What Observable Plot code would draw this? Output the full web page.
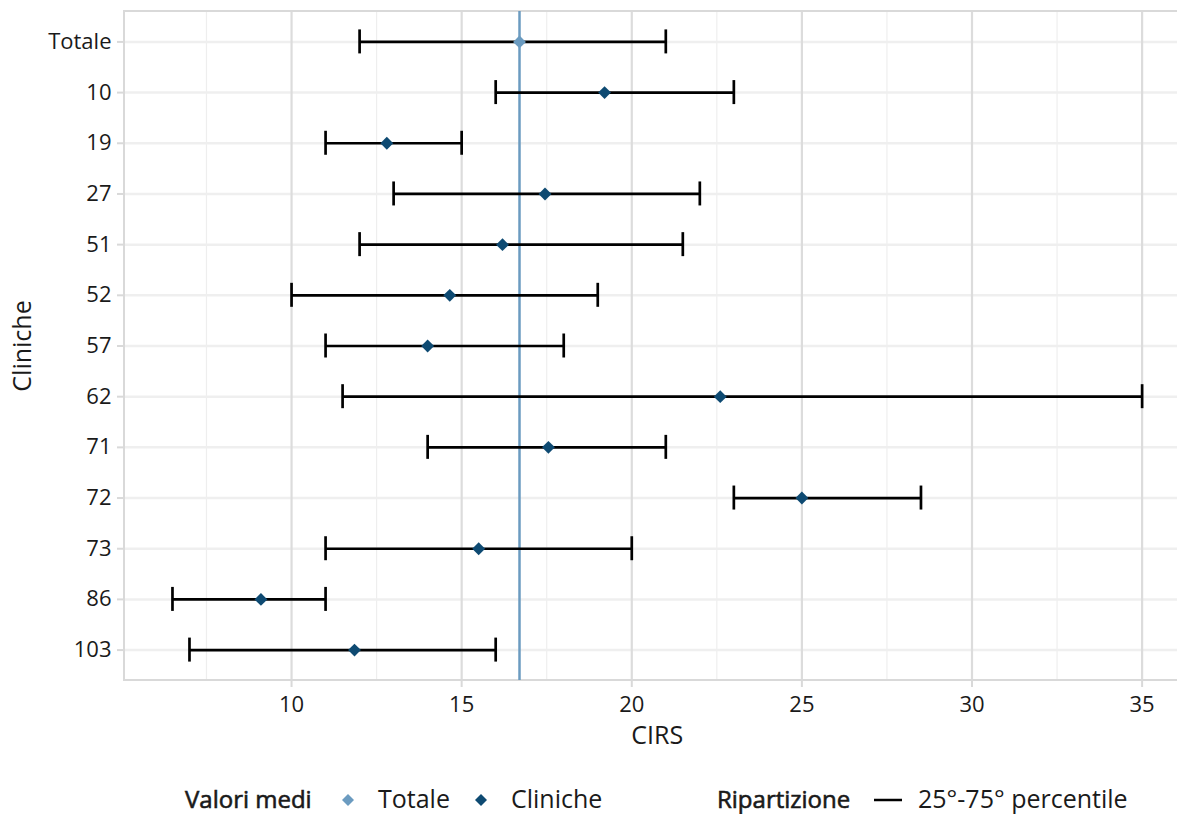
<!DOCTYPE html>
<html>
<head>
<meta charset="utf-8">
<script src="https://cdn.jsdelivr.net/npm/d3@7"></script>
<script src="https://cdn.jsdelivr.net/npm/@observablehq/plot@0.6"></script>
<style>
  html, body { margin: 0; padding: 0; background: #fff; overflow: hidden; }
  #wrap { position: relative; width: 1177px; height: 814px; font-family: "Open Sans", sans-serif; }
  #legend { position: absolute; left: 0; top: 770px; }
</style>
</head>
<body>
<div id="wrap">
  <div id="chart"></div>
  <svg id="legend" width="1177" height="44" font-family="Open Sans" font-size="25" fill="#1a1a1a">
    <text x="185" y="38" font-size="24" stroke="#1a1a1a" stroke-width="0.6">Valori medi</text>
    <path d="M348,24 L354,30 L348,36 L342,30 Z" fill="#6b9bc0"></path>
    <text x="378" y="38">Totale</text>
    <path d="M481,24 L487,30 L481,36 L475,30 Z" fill="#0e4a72"></path>
    <text x="511" y="38">Cliniche</text>
    <text x="717" y="38" font-size="24" stroke="#1a1a1a" stroke-width="0.6">Ripartizione</text>
    <line x1="874" x2="902" y1="30" y2="30" stroke="#000" stroke-width="2.5"></line>
    <text x="918" y="38">25°-75° percentile</text>
  </svg>
</div>
<script>
const categories = ["Totale", "10", "19", "27", "51", "52", "57", "62", "71", "72", "73", "86", "103"];
const means = [16.7, 19.2, 12.8, 17.45, 16.2, 14.65, 14.0, 22.6, 17.55, 25.0, 15.5, 9.1, 11.85];
const p25 = [12, 16, 11, 13, 12, 10, 11, 11.5, 14, 23, 11, 6.5, 7];
const p75 = [21, 23, 15, 22, 21.5, 19, 18, 35, 21, 28.5, 20, 11, 16];
const majorTicks = [10, 15, 20, 25, 30, 35];
const minorTicks = [7.5, 12.5, 17.5, 22.5, 27.5, 32.5];

const colTotale = "#6b9bc0";
const colCliniche = "#0e4a72";

const rows = categories.map((c, i) => ({
  clinica: c, mean: means[i], lo: p25[i], hi: p75[i],
  group: c === "Totale" ? "Totale" : "Cliniche"
}));
const totaleMean = means[categories.indexOf("Totale")];

const xDomain = [5.09, 36.04];
const panelCenter = (5.075 + 36.425) / 2;

const chart = Plot.plot({
  width: 1177,
  height: 770,
  marginLeft: 124,
  marginRight: 0,
  marginTop: 11,
  marginBottom: 90,
  style: { fontFamily: "Open Sans", fontSize: "22px", color: "#1a1a1a", background: "#fff" },
  x: { domain: xDomain, label: null },
  y: { type: "band", domain: categories, paddingInner: 0.5265, paddingOuter: 0.3632, round: false, label: null },
  marks: [
    Plot.ruleX(minorTicks, { stroke: "#eeeeee", strokeWidth: 1.2 }),
    Plot.ruleY(categories, { y: d => d, stroke: "#efefef", strokeWidth: 2.5 }),
    Plot.ruleX(majorTicks, { stroke: "#dcdcdc", strokeWidth: 2.2 }),
    Plot.rect([0], { x1: xDomain[0], x2: 37, fill: "none", stroke: "#d9d9d9", strokeWidth: 2 }),
    Plot.axisX({ ticks: majorTicks, tickSize: 7, tickPadding: 9, stroke: "#d9d9d9", strokeWidth: 2, fill: "#1a1a1a", label: null }),
    Plot.axisY({ tickSize: 7, tickPadding: 6, stroke: "#d9d9d9", strokeWidth: 2, fill: "#1a1a1a", label: null }),
    Plot.ruleX([totaleMean], { stroke: colTotale, strokeWidth: 2.5 }),
    Plot.ruleY(rows, { y: "clinica", x1: "lo", x2: "hi", stroke: "#000", strokeWidth: 2.7 }),
    Plot.tickX(rows, { y: "clinica", x: "lo", stroke: "#000", strokeWidth: 2.7 }),
    Plot.tickX(rows, { y: "clinica", x: "hi", stroke: "#000", strokeWidth: 2.7 }),
    Plot.dot(rows, { y: "clinica", x: "mean", symbol: "diamond2", r: 5.8, stroke: null,
      fill: d => d.group === "Totale" ? colTotale : colCliniche }),
    Plot.text(["CIRS"], { x: panelCenter, frameAnchor: "bottom", lineAnchor: "middle", dy: 55, fontSize: 25, fill: "#1a1a1a" }),
    Plot.text(["Cliniche"], { frameAnchor: "left", textAnchor: "middle", lineAnchor: "middle", dx: -102, rotate: -90, fontSize: 25, fill: "#1a1a1a" })
  ]
});
document.getElementById("chart").appendChild(chart);
</script>
</body>
</html>
